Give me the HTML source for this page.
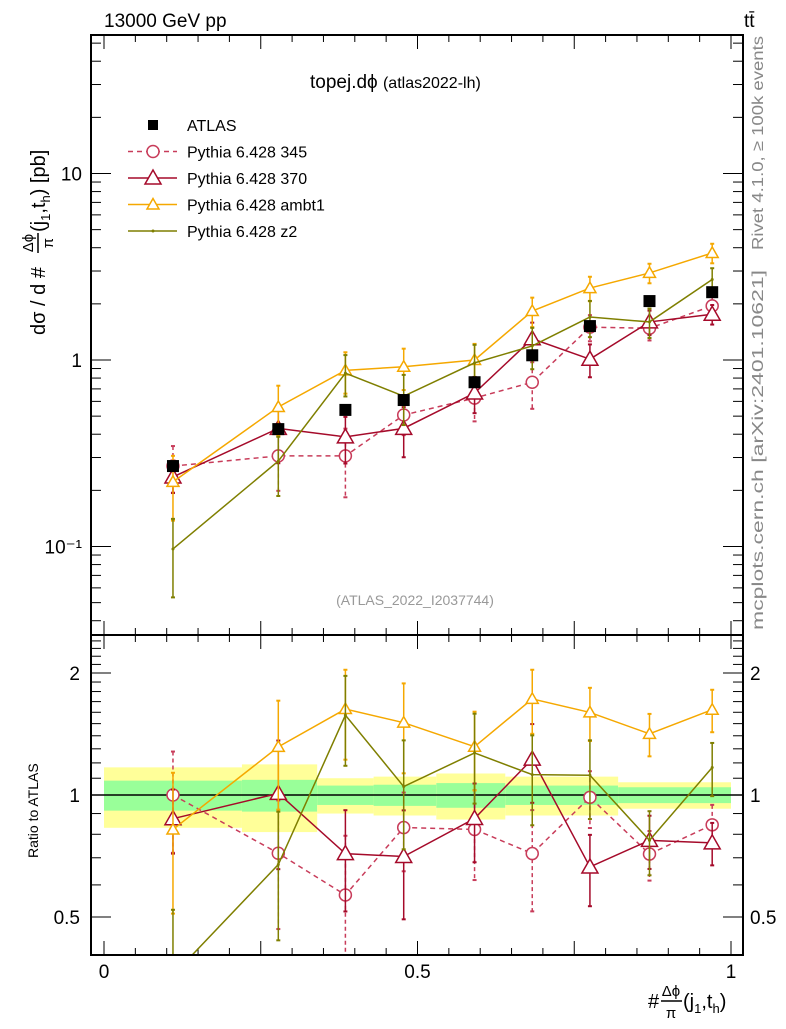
<!DOCTYPE html>
<html><head><meta charset="utf-8">
<style>
body{margin:0;background:#fff;}
svg text{font-family:"Liberation Sans",sans-serif;}
</style></head>
<body>
<svg id="chart" width="786" height="1024" viewBox="0 0 786 1024" xmlns="http://www.w3.org/2000/svg">
<g id="bands"></g>
<g id="grid"></g>
<g id="series"></g>
<rect x="91" y="35" width="652" height="600" fill="none" stroke="#000" stroke-width="2"/>
<rect x="91" y="635" width="652" height="320" fill="none" stroke="#000" stroke-width="2"/>
<text x="104" y="27" font-size="19">13000 GeV pp</text>
<text x="744" y="27" font-size="19">tt̄</text>
<text x="310" y="88" font-size="19">topej.dϕ <tspan font-size="16">(atlas2022-lh)</tspan></text>
<text x="415" y="605" font-size="14" fill="#999" text-anchor="middle">(ATLAS_2022_I2037744)</text>
<text transform="translate(763,250) rotate(-90)" font-size="16" fill="#888" textLength="214" lengthAdjust="spacingAndGlyphs">Rivet 4.1.0, ≥ 100k events</text>
<text transform="translate(763,630) rotate(-90)" font-size="16" fill="#888" textLength="360" lengthAdjust="spacingAndGlyphs">mcplots.cern.ch [arXiv:2401.10621]</text>
<g transform="translate(45,335) rotate(-90)" font-size="20">
  <text x="0" y="0">dσ / d #</text>
  <text x="92" y="-12" font-size="15" text-anchor="middle">Δϕ</text>
  <line x1="82" x2="102" y1="-7" y2="-7" stroke="#000" stroke-width="1.5"/>
  <text x="92" y="8" font-size="15" text-anchor="middle">π</text>
  <text x="103" y="0">(j<tspan font-size="13" dy="5">1</tspan><tspan dy="-5">,t</tspan><tspan font-size="13" dy="5">h</tspan><tspan dy="-5">) [pb]</tspan></text>
</g>
<text transform="translate(38,858) rotate(-90)" font-size="14">Ratio to ATLAS</text>
<g font-size="20">
  <text x="648" y="1008">#</text>
  <text x="671" y="996" font-size="15" text-anchor="middle">Δϕ</text>
  <line x1="661" x2="682" y1="1001" y2="1001" stroke="#000" stroke-width="1.5"/>
  <text x="671" y="1018" font-size="15" text-anchor="middle">π</text>
  <text x="683" y="1008">(j<tspan font-size="13" dy="5">1</tspan><tspan dy="-5">,t</tspan><tspan font-size="13" dy="5">h</tspan><tspan dy="-5">)</tspan></text>
</g>
<g id="legend"></g>
</svg>
<script>
const categories = [0.110, 0.278, 0.385, 0.478, 0.591, 0.683, 0.775, 0.870, 0.970];
const atlasValues = [0.27, 0.426, 0.54, 0.61, 0.76, 1.06, 1.52, 2.07, 2.31];
const p345Values = [0.27, 0.306, 0.306, 0.507, 0.625, 0.76, 1.5, 1.48, 1.95];
const p370Values = [0.236, 0.43, 0.387, 0.43, 0.665, 1.3, 1.01, 1.6, 1.76];
const ambt1Values = [0.222, 0.56, 0.88, 0.92, 1.0, 1.83, 2.43, 2.93, 3.75];
const z2Values = [0.097, 0.287, 0.85, 0.64, 0.965, 1.19, 1.70, 1.6, 2.7];
const p345Err = [0.28, 0.35, 0.4, 0.22, 0.25, 0.28, 0.16, 0.14, 0.12];
const p370Err = [0.18, 0.35, 0.28, 0.3, 0.22, 0.22, 0.2, 0.15, 0.12];
const ambt1Err = [0.38, 0.3, 0.25, 0.25, 0.22, 0.18, 0.15, 0.12, 0.12];
const z2Err = [0.45, 0.35, 0.25, 0.3, 0.25, 0.25, 0.22, 0.18, 0.15];
const bandEdges = [0, 0.22, 0.34, 0.43, 0.53, 0.64, 0.82, 1.0];
const bandInner = [0.085, 0.09, 0.055, 0.06, 0.07, 0.055, 0.045];
const bandOuter = [0.17, 0.19, 0.1, 0.11, 0.13, 0.11, 0.075];
const mainTickLabels = ["10⁻¹", "1", "10"];
const ratioTickLabels = ["0.5", "1", "2"];
const xTickLabels = ["0", "0.5", "1"];

const NS = "http://www.w3.org/2000/svg";
const RIGHT = 743;
function X(v){ return 104 + v*627; }
function Y(v){ return 360 - Math.log10(v)*186.5; }
function R(v){ return 795 - Math.log2(v)*122; }
function mk(parent, tag, attrs){ const e=document.createElementNS(NS,tag); for(const k in attrs) e.setAttribute(k,attrs[k]); parent.appendChild(e); return e; }
const grid=document.getElementById('grid'), series=document.getElementById('series'), bands=document.getElementById('bands'), legend=document.getElementById('legend');

for(let i=0;i<bandInner.length;i++){
  const x0=X(bandEdges[i]), x1=X(bandEdges[i+1]);
  const o=mk(bands,'rect',{x:x0,y:R(1+bandOuter[i]),width:x1-x0,height:R(1-bandOuter[i])-R(1+bandOuter[i]),fill:'#ffff99'});
  
  
  const g=mk(bands,'rect',{x:x0,y:R(1+bandInner[i]),width:x1-x0,height:R(1-bandInner[i])-R(1+bandInner[i]),fill:'#99ff99'});
  
  
}
mk(bands,'line',{x1:91,x2:RIGHT,y1:795,y2:795,stroke:'#000','stroke-width':1.5});

for(let i=0;i<=20;i++){
  const v=i*0.05, x=X(v); const major=(i%5==0)?14:7;
  mk(grid,'line',{x1:x,x2:x,y1:35,y2:35+major,stroke:'#000'});
  mk(grid,'line',{x1:x,x2:x,y1:955,y2:955-major,stroke:'#000'});
  mk(grid,'line',{x1:x,x2:x,y1:635,y2:635-major,stroke:'#000'});
  mk(grid,'line',{x1:x,x2:x,y1:635,y2:635+major,stroke:'#000'});
}
[0,0.5,1].forEach((v,i)=>{ const t=mk(grid,'text',{x:X(v),y:978,'font-size':19,'text-anchor':'middle'}); t.textContent=xTickLabels[i];
 
  });
for(let d=-2;d<=1;d++){ for(let m=1;m<10;m++){ const v=m*Math.pow(10,d); const y=Y(v); if(y<36||y>634) continue; const L=m==1?20:10;
 mk(grid,'line',{x1:91,x2:91+L,y1:y,y2:y,stroke:'#000'}); mk(grid,'line',{x1:RIGHT,x2:RIGHT-L,y1:y,y2:y,stroke:'#000'}); } }
[0.1,1,10].forEach((v,i)=>{ const t=mk(grid,'text',{x:82,y:Y(v)+7,'font-size':19,'text-anchor':'end'}); t.textContent=mainTickLabels[i];
 
  });
for(let v=0.4;v<=2.5;v+=0.1){ const y=R(v); if(y<637||y>953) continue; const maj=[0.5,1,2].some(m=>Math.abs(m-v)<1e-6); const L=maj?20:10;
 mk(grid,'line',{x1:91,x2:91+L,y1:y,y2:y,stroke:'#000'}); mk(grid,'line',{x1:RIGHT,x2:RIGHT-L,y1:y,y2:y,stroke:'#000'}); }
[0.5,1,2].forEach((v,i)=>{ const t=mk(grid,'text',{x:80,y:R(v)+7,'font-size':19,'text-anchor':'end'}); t.textContent=ratioTickLabels[i];
 
 
 const t2=mk(grid,'text',{x:750,y:R(v)+7,'font-size':19}); t2.textContent=ratioTickLabels[i];
 
  });

function marker(g,type,x,y,col,size){
  if(type==='circle') return mk(g,'circle',{cx:x,cy:y,r:size,fill:'none',stroke:col,'stroke-width':1.5});
  if(type==='tri') return mk(g,'polygon',{points:`${x},${y-size} ${x-size},${y+size*0.75} ${x+size},${y+size*0.75}`,fill:'none',stroke:col,'stroke-width':1.5});
  if(type==='dot') return mk(g,'circle',{cx:x,cy:y,r:1.5,fill:col});
  if(type==='square') return mk(g,'rect',{x:x-6,y:y-6,width:12,height:12,fill:'#000'});
}
function clipG(y0,y1,name){ const g=mk(series,'svg',{x:91,y:y0,width:RIGHT-91,height:y1-y0,viewBox:`91 ${y0} ${RIGHT-91} ${y1-y0}`,overflow:'hidden'});   return g; }
const mainG=clipG(35,635,'main-plot-area'), ratioG=clipG(635,955,'ratio-plot-area');

const defs=[
 {name:'pythia-345',vals:p345Values,err:p345Err,col:'#c83c5a',type:'circle',size:6,dash:'5,4'},
 {name:'pythia-370',vals:p370Values,err:p370Err,col:'#a50a2a',type:'tri',size:8,dash:''},
 {name:'pythia-ambt1',vals:ambt1Values,err:ambt1Err,col:'#f5a800',type:'tri',size:6,dash:''},
 {name:'pythia-z2',vals:z2Values,err:z2Err,col:'#7f7f00',type:'dot',size:2,dash:''}
];
defs.forEach(s=>{
  [[mainG,Y,v=>v,s.name+'-main'],[ratioG,R,(v,i)=>v/atlasValues[i],s.name+'-ratio']].forEach(([G,fy,tf,nm])=>{
    const g=mk(G,'g',{});  
    const pts=categories.map((c,i)=>`${X(c)},${fy(tf(s.vals[i],i))}`).join(' ');
    mk(g,'polyline',{points:pts,fill:'none',stroke:s.col,'stroke-width':1.5,'stroke-dasharray':s.dash});
    categories.forEach((c,i)=>{ const v=tf(s.vals[i],i); const x=X(c);
      const yt=fy(v*(1+s.err[i])), yb=fy(Math.max(v*(1-s.err[i]),1e-4));
      mk(g,'line',{x1:x,x2:x,y1:yt,y2:yb,stroke:s.col,'stroke-width':1.5,'stroke-dasharray':s.dash?'4,3':''});
      mk(g,'line',{x1:x-2,x2:x+2,y1:yt,y2:yt,stroke:s.col,'stroke-width':2});
      mk(g,'line',{x1:x-2,x2:x+2,y1:yb,y2:yb,stroke:s.col,'stroke-width':2});
      const p=marker(g,s.type,x,fy(v),s.col,s.size); p.setAttribute('fill', s.type==='dot'?s.col:'#fff'); });
  });
});
const ag=mk(mainG,'g',{});  
categories.forEach((c,i)=>{ const m=marker(ag,'square',X(c),Y(atlasValues[i]));
 
  });

const leg=[{t:'ATLAS',type:'square'}].concat(defs.map(d=>({t:'Pythia 6.428 '+d.name.split('-')[1],d})));
leg.forEach((e,i)=>{ const y=125+i*26.5; const g=mk(legend,'g',{});
 
 
 if(e.d){ mk(g,'line',{x1:128,x2:177,y1:y,y2:y,stroke:e.d.col,'stroke-width':1.5,'stroke-dasharray':e.d.dash});
   const p=marker(g,e.d.type,153,y,e.d.col,e.d.size); p.setAttribute('fill',e.d.type==='dot'?e.d.col:'#fff'); }
 else { mk(g,'rect',{x:148,y:y-5,width:10,height:10,fill:'#000'}); }
 const t=mk(g,'text',{x:187,y:y+6,'font-size':16}); t.textContent=e.t; });
</script>
</body></html>
